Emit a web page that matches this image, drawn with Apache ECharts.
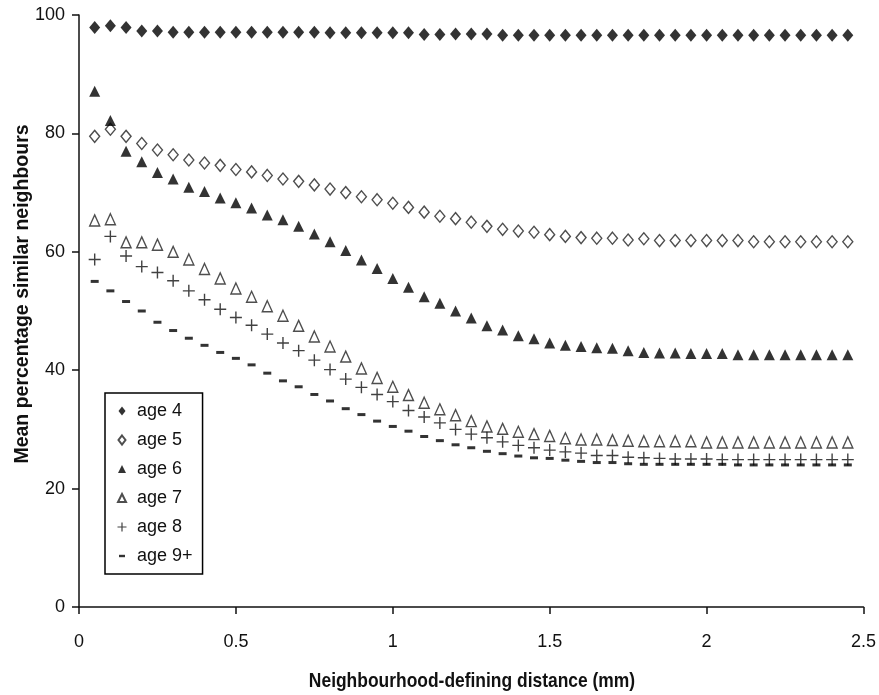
<!DOCTYPE html>
<html>
<head>
<meta charset="utf-8">
<title>Mean percentage similar neighbours</title>
<script src="https://cdn.jsdelivr.net/npm/echarts@6/dist/echarts.min.js"></script>
<style>
  html, body { margin: 0; padding: 0; background: #fff; }
  #chart { width: 879px; height: 695px; }
</style>
</head>
<body>
<div id="chart"></div>
<script>
// distance (mm) for every point
const distance = [0.05, 0.1, 0.15, 0.2, 0.25, 0.3, 0.35, 0.4, 0.45, 0.5,
  0.55, 0.6, 0.65, 0.7, 0.75, 0.8, 0.85, 0.9, 0.95, 1.0,
  1.05, 1.1, 1.15, 1.2, 1.25, 1.3, 1.35, 1.4, 1.45, 1.5,
  1.55, 1.6, 1.65, 1.7, 1.75, 1.8, 1.85, 1.9, 1.95, 2.0,
  2.05, 2.1, 2.15, 2.2, 2.25, 2.3, 2.35, 2.4, 2.45];

const age4 = [97.9, 98.2, 97.9, 97.3, 97.3, 97.1, 97.1, 97.1, 97.1, 97.1,
  97.1, 97.1, 97.1, 97.1, 97.1, 97.0, 97.0, 97.0, 97.0, 97.0,
  97.0, 96.7, 96.7, 96.8, 96.8, 96.8, 96.6, 96.6, 96.6, 96.6,
  96.6, 96.6, 96.6, 96.6, 96.6, 96.6, 96.6, 96.6, 96.6, 96.6,
  96.6, 96.6, 96.6, 96.6, 96.6, 96.6, 96.6, 96.6, 96.6];
const age5 = [79.5, 80.7, 79.5, 78.3, 77.2, 76.4, 75.5, 75.0, 74.6, 73.9,
  73.5, 72.9, 72.3, 71.9, 71.3, 70.6, 70.0, 69.3, 68.8, 68.2,
  67.5, 66.7, 66.0, 65.6, 65.0, 64.3, 63.8, 63.5, 63.3, 62.9,
  62.6, 62.4, 62.3, 62.3, 62.0, 62.2, 61.9, 61.9, 61.9, 61.9,
  61.9, 61.9, 61.7, 61.7, 61.7, 61.7, 61.7, 61.7, 61.7];
const age6 = [87.1, 82.2, 77.0, 75.2, 73.4, 72.3, 70.9, 70.2, 69.1, 68.3,
  67.4, 66.2, 65.4, 64.3, 63.0, 61.7, 60.2, 58.6, 57.2, 55.5,
  54.0, 52.4, 51.3, 50.0, 48.8, 47.5, 46.8, 45.8, 45.3, 44.6,
  44.2, 44.0, 43.8, 43.7, 43.3, 43.0, 42.9, 42.9, 42.8, 42.8,
  42.8, 42.6, 42.6, 42.6, 42.6, 42.6, 42.6, 42.6, 42.6];
const age7 = [65.3, 65.5, 61.6, 61.6, 61.2, 60.0, 58.7, 57.1, 55.5, 53.8,
  52.4, 50.8, 49.2, 47.5, 45.7, 44.0, 42.3, 40.3, 38.7, 37.2,
  35.8, 34.5, 33.4, 32.4, 31.4, 30.5, 30.1, 29.6, 29.2, 28.9,
  28.5, 28.3, 28.3, 28.2, 28.1, 28.0, 28.0, 28.0, 28.0, 27.8,
  27.8, 27.8, 27.8, 27.8, 27.8, 27.8, 27.8, 27.8, 27.8];
const age8 = [58.7, 62.6, 59.3, 57.5, 56.5, 55.1, 53.4, 51.9, 50.3, 48.9,
  47.6, 46.1, 44.6, 43.3, 41.7, 40.1, 38.5, 37.1, 35.9, 34.7,
  33.2, 32.1, 31.1, 30.0, 29.2, 28.6, 27.9, 27.3, 26.9, 26.5,
  26.2, 26.0, 25.6, 25.6, 25.3, 25.2, 25.1, 25.0, 25.0, 25.0,
  24.9, 24.9, 24.9, 24.9, 24.9, 24.9, 24.9, 24.9, 24.9];
const age9 = [55.0, 53.4, 51.6, 50.0, 48.1, 46.7, 45.4, 44.2, 43.0, 42.0,
  40.9, 39.5, 38.2, 37.2, 35.9, 34.8, 33.5, 32.5, 31.4, 30.5,
  29.7, 28.8, 28.1, 27.4, 26.9, 26.3, 25.9, 25.5, 25.2, 25.1,
  24.8, 24.6, 24.4, 24.4, 24.2, 24.1, 24.1, 24.1, 24.1, 24.1,
  24.1, 24.0, 24.0, 24.0, 24.0, 24.0, 24.0, 24.0, 24.0];

const seriesNames = ['age 4', 'age 5', 'age 6', 'age 7', 'age 8', 'age 9+'];
const xTicks = [0, 0.5, 1, 1.5, 2, 2.5];
const xTitle = 'Neighbourhood-defining distance (mm)';
const yTitle = 'Mean percentage similar neighbours';

const tickFont = 'Liberation Sans, Arial, sans-serif';

// marker shapes (legend icons share a 12x12 frame so they keep their own size)
const plusPath = 'path://M5.3,0H6.7V5.3H12V6.7H6.7V12H5.3V6.7H0V5.3H5.3Z';
const frame = 'M0,0L0,0M12,12L12,12';
const legendIcons = [
  'path://' + frame + 'M6,1.5L9.5,6L6,10.5L2.5,6Z',
  'path://' + frame + 'M6,1.5L9.5,6L6,10.5L2.5,6Z',
  'path://' + frame + 'M6,2L10,10H2Z',
  'path://' + frame + 'M6,2L10,10H2Z',
  'path://' + frame + 'M5.4,1.5H6.6V5.4H10.5V6.6H6.6V10.5H5.4V6.6H1.5V5.4H5.4Z',
  'path://' + frame + 'M3,4.8H9V7.2H3Z'
];

function pts (values) {
  return distance.map((d, i) => [d, values[i]]);
}

let chart = echarts.init(document.getElementById('chart'), null, {renderer: 'canvas'});
chart.setOption({
  animation: false,
  backgroundColor: '#fff',
  grid: {
    left: 79,
    right: 15,
    top: 15,
    bottom: 88
  },
  // axis titles: the x title is a narrow bold face in the original, so squeeze it
  graphic: [
    {
      type: 'text',
      x: 472,
      y: 681,
      scaleX: 0.83,
      style: {
        text: xTitle,
        font: 'bold 21px Liberation Sans, Arial, sans-serif',
        fill: '#111',
        align: 'center',
        verticalAlign: 'middle'
      }
    },
    {
      type: 'text',
      x: 23,
      y: 294,
      rotation: Math.PI / 2,
      style: {
        text: yTitle,
        font: 'bold 19.5px Liberation Sans, Arial, sans-serif',
        fill: '#111',
        align: 'center',
        verticalAlign: 'middle'
      }
    }
  ],
  legend: {
    orient: 'vertical',
    left: 105,
    top: 393,
    width: 100,
    padding: [8, 10, 8, 10],
    itemGap: 9,
    itemWidth: 12,
    itemHeight: 12,
    borderColor: '#000',
    borderWidth: 1.5,
    textStyle: {
      fontFamily: tickFont,
      fontSize: 18,
      color: '#111',
      lineHeight: 20,
      padding: [0, 0, 0, 4]
    },
    data: seriesNames.map((n, i) => ({name: n, icon: legendIcons[i]}))
  },
  xAxis: {
    type: 'value',
    min: 0,
    max: 2.5,
    interval: 0.5,
    axisLine: {show: true, lineStyle: {color: '#111', width: 1.5}},
    axisTick: {show: true, length: 7, lineStyle: {color: '#111', width: 1.5}},
    axisLabel: {
      margin: 26,
      fontFamily: tickFont,
      fontSize: 18,
      color: '#111',
      formatter: v => xTicks.indexOf(v) >= 0 ? String(v) : ''
    },
    splitLine: {show: false}
  },
  yAxis: {
    type: 'value',
    min: 0,
    max: 100,
    interval: 20,
    axisLine: {show: true, lineStyle: {color: '#111', width: 1.5}},
    axisTick: {show: true, length: 7, lineStyle: {color: '#111', width: 1.5}},
    axisLabel: {
      margin: 14,
      fontFamily: tickFont,
      fontSize: 18,
      color: '#111'
    },
    splitLine: {show: false}
  },
  series: [
    {
      name: 'age 4',
      type: 'scatter',
      symbol: 'diamond',
      symbolSize: [11, 13],
      itemStyle: {color: '#000'},
      data: pts(age4)
    },
    {
      name: 'age 5',
      type: 'scatter',
      symbol: 'diamond',
      symbolSize: [10, 12],
      itemStyle: {color: '#fff', borderColor: '#222', borderWidth: 1.4},
      data: pts(age5)
    },
    {
      name: 'age 6',
      type: 'scatter',
      symbol: 'triangle',
      symbolSize: [11, 11],
      itemStyle: {color: '#000'},
      data: pts(age6)
    },
    {
      name: 'age 7',
      type: 'scatter',
      symbol: 'triangle',
      symbolSize: [10, 11],
      itemStyle: {color: '#fff', borderColor: '#222', borderWidth: 1.4},
      data: pts(age7)
    },
    {
      name: 'age 8',
      type: 'scatter',
      symbol: plusPath,
      symbolSize: [12, 12],
      itemStyle: {color: '#111'},
      data: pts(age8)
    },
    {
      name: 'age 9+',
      type: 'scatter',
      symbol: 'rect',
      symbolSize: [8, 3],
      itemStyle: {color: '#000'},
      data: pts(age9)
    }
  ]
});
window.addEventListener('resize', () => { chart.resize(); });
</script>
</body>
</html>
